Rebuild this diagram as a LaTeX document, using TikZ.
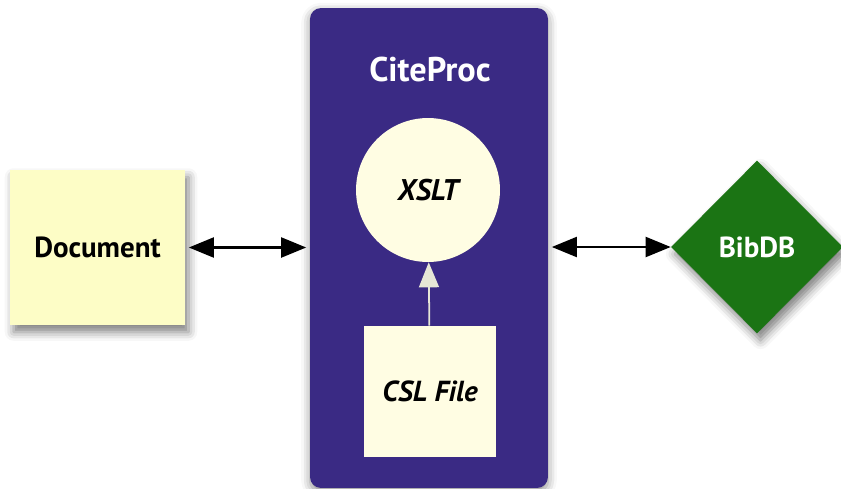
\documentclass[tikz,border=0pt]{standalone}
\usepackage{fontspec}
\setmainfont{PT Sans}
\usepackage{tikz}
\usetikzlibrary{arrows.meta,positioning,shapes.geometric,shadows.blur}

\definecolor{procblue}{RGB}{58,42,132}
\definecolor{docyellow}{RGB}{253,253,198}
\definecolor{paleyellow}{RGB}{255,253,227}
\definecolor{bibgreen}{RGB}{27,116,20}
\definecolor{palearrow}{RGB}{230,230,214}

\begin{document}
\begin{tikzpicture}[
    x=0.02cm, y=0.02cm,
    label/.style={font=\fontsize{16.5}{19}\selectfont\bfseries},
    box/.style={label, minimum width=3.5cm, minimum height=3.1cm, inner sep=0pt},
    arr/.style={{Triangle[length=0.5cm,width=0.4cm]}-{Triangle[length=0.5cm,width=0.4cm]}, line width=1.2pt},
    shade/.style={blur shadow={shadow xshift=2pt, shadow yshift=-4pt, shadow blur radius=5pt, shadow opacity=50}}
]
\useasboundingbox (0,0) rectangle (841,488);

% CiteProc panel
\node[fill=procblue, rounded corners=0.22cm, minimum width=4.76cm, minimum height=9.6cm, inner sep=0pt,
      blur shadow={shadow xshift=0pt, shadow yshift=-2pt, shadow blur radius=5pt, shadow opacity=45}] (proc) at (429,240) {};
\node[label, font=\fontsize{19.5}{22}\selectfont\bfseries, text=white] (proctitle) at (430,418) {CiteProc};

\node[label, font=\fontsize{17}{20}\selectfont\bfseries, circle, fill=paleyellow, minimum size=2.88cm, inner sep=0pt] (xslt) at (428,298) {\itshape XSLT};
\node[box, fill=paleyellow, minimum width=2.64cm, minimum height=2.62cm] (csl) at (430,96.5) {\itshape CSL File};

\node[box, fill=docyellow, shade] (doc) at (97.5,240.5) {Document};
\node[label, diamond, fill=bibgreen, text=white, minimum width=3.44cm, minimum height=3.46cm, inner sep=0pt, shade] (bib) at (757,241) {BibDB};

\draw[arr, shorten <=2pt, shorten >=2pt] (doc.east) -- (doc.east -| proc.west);
\draw[arr, shorten <=2pt] (bib.west -| proc.east) -- (bib.west);
\draw[-{Triangle[length=0.5cm,width=0.4cm]}, palearrow, line width=1pt] (csl) -- (xslt);
\end{tikzpicture}
\end{document}
